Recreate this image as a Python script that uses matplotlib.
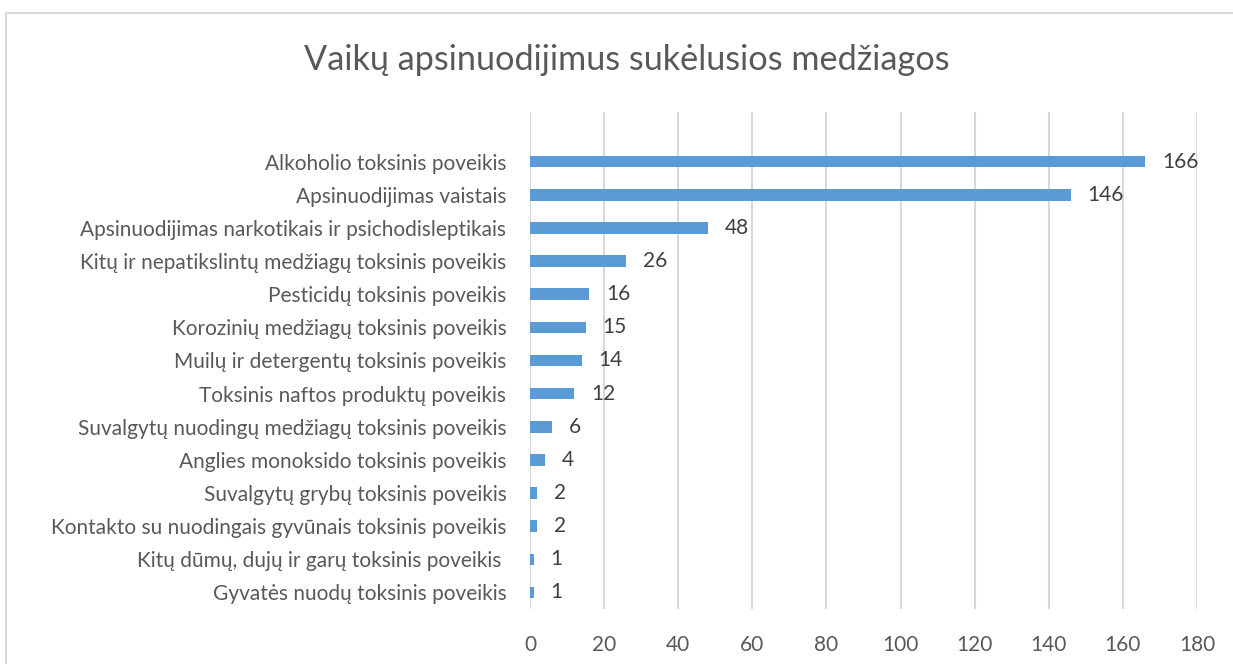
import matplotlib.pyplot as plt
from matplotlib.patches import Rectangle

categories = [
    "Alkoholio toksinis poveikis",
    "Apsinuodijimas vaistais",
    "Apsinuodijimas narkotikais ir psichodisleptikais",
    "Kitų ir nepatikslintų medžiagų toksinis poveikis",
    "Pesticidų toksinis poveikis",
    "Korozinių medžiagų toksinis poveikis",
    "Muilų ir detergentų toksinis poveikis",
    "Toksinis naftos produktų poveikis",
    "Suvalgytų nuodingų medžiagų toksinis poveikis",
    "Anglies monoksido toksinis poveikis",
    "Suvalgytų grybų toksinis poveikis",
    "Kontakto su nuodingais gyvūnais toksinis poveikis",
    "Kitų dūmų, dujų ir garų toksinis poveikis ",
    "Gyvatės nuodų toksinis poveikis",
]
values = [166, 146, 48, 26, 16, 15, 14, 12, 6, 4, 2, 2, 1, 1]
xticks = [0, 20, 40, 60, 80, 100, 120, 140, 160, 180]

plt.rcParams['font.family'] = ['Lato', 'DejaVu Sans']

fig = plt.figure(figsize=(12.33, 6.64), dpi=100)
# outer chart frame (cut off at right and bottom like the source)
fig.patches.append(Rectangle((6 / 1233, -0.1), 1.2, 1 - 13 / 664 + 0.1,
                             transform=fig.transFigure, fill=False,
                             edgecolor='#d9d9d9', linewidth=1.5))

ax = fig.add_axes([530 / 1233, 1 - 609 / 664, 667 / 1233, 497 / 664])

n = len(categories)
ys = [n - 1 - i for i in range(n)]
ax.barh(ys, values, height=0.35, color='#5b9bd5', zorder=3)
for y, v in zip(ys, values):
    ax.annotate(str(v), (v, y), xytext=(12, 0), textcoords='offset points',
                va='center', ha='left', fontsize=15, color='#404040')

ax.set_xlim(0, 180)
ax.set_ylim(-0.5, n + 0.5)
ax.set_xticks(xticks)
ax.set_yticks(ys)
ax.set_yticklabels(categories)
ax.tick_params(axis='both', length=0, labelsize=15, labelcolor='#595959')
ax.tick_params(axis='y', pad=17)
ax.tick_params(axis='x', pad=19)
ax.grid(axis='x', color='#d9d9d9', linewidth=1.5, zorder=0)
for s in ax.spines.values():
    s.set_visible(False)

fig.text(627 / 1233, 1 - 60 / 664, "Vaikų apsinuodijimus sukėlusios medžiagos",
         ha='center', va='center', fontsize=24.7, color='#595959')

fig.savefig('out.png', dpi=100)
